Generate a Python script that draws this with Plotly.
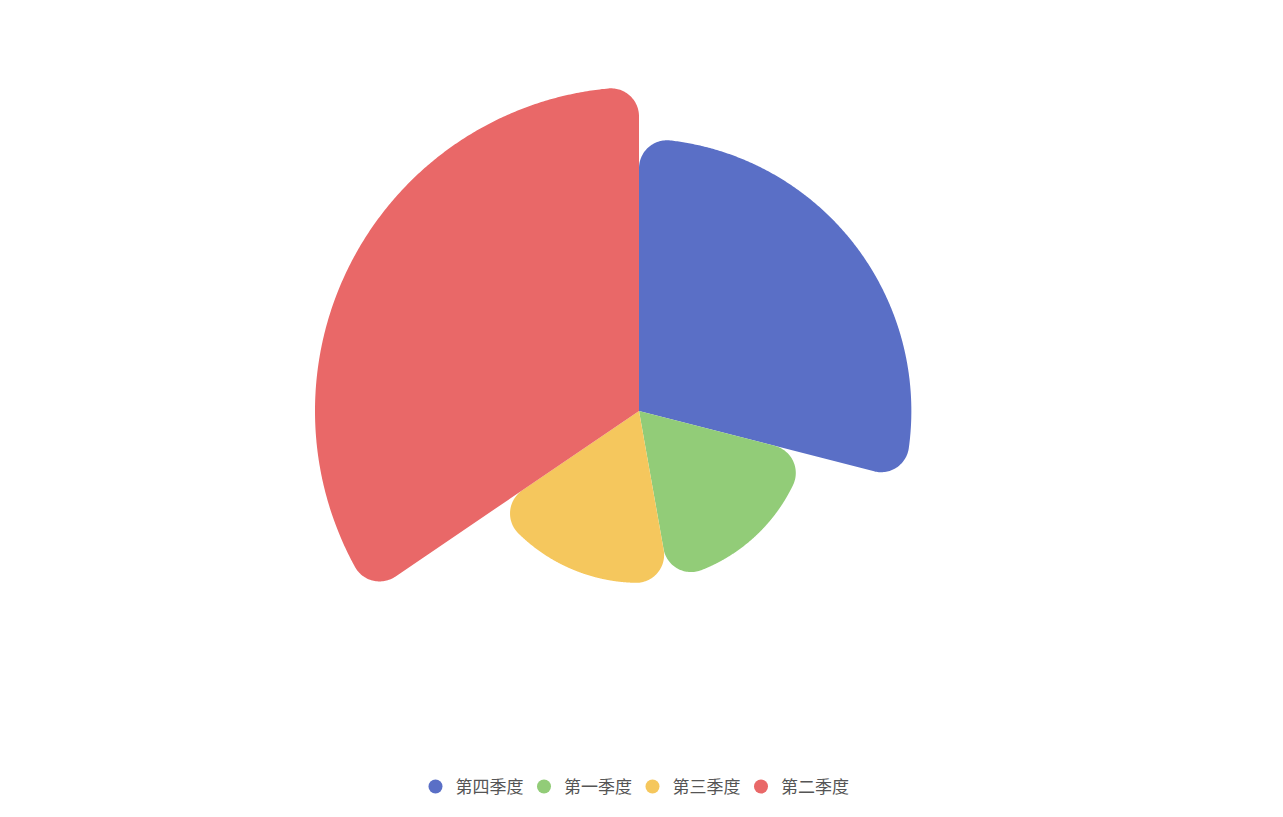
import numpy as np
import plotly.graph_objects as go

# Data
categories = ["第四季度", "第一季度", "第三季度", "第二季度"]
values = [290, 182, 183, 345]
colors = ["#5a6fc6", "#92cc78", "#f5c75d", "#e96868"]

W, H = 1283, 817
CX, CY = 639, 411          # pie centre in pixels
MAX_R = 324                # radius of the largest slice, pixels
CORNER = 28                # rounded-corner radius, pixels


def pol(r, a_deg):
    """a_deg: clockwise degrees from 12 o'clock"""
    t = np.radians(90 - a_deg)
    return np.array([r * np.cos(t), r * np.sin(t)])


def arc(center, p_from, p_to, n=40):
    v1 = p_from - center
    v2 = p_to - center
    t1 = np.arctan2(v1[1], v1[0])
    t2 = np.arctan2(v2[1], v2[0])
    d = (t2 - t1 + np.pi) % (2 * np.pi) - np.pi
    rr = np.hypot(*v1)
    ts = t1 + d * np.linspace(0, 1, n)
    return np.stack([center[0] + rr * np.cos(ts), center[1] + rr * np.sin(ts)], axis=1)


def sector(a1, a2, R, c):
    delta = np.degrees(np.arcsin(c / (R - c)))
    d = (R - c) * np.cos(np.radians(delta))
    pts = [np.array([0.0, 0.0])]
    C1 = pol(R - c, a1 + delta)
    T1 = pol(d, a1)
    A1 = pol(R, a1 + delta)
    pts.extend(arc(C1, T1, A1))
    angs = np.linspace(a1 + delta, a2 - delta, 300)
    pts.extend([pol(R, a) for a in angs])
    C2 = pol(R - c, a2 - delta)
    A2 = pol(R, a2 - delta)
    T2 = pol(d, a2)
    pts.extend(arc(C2, A2, T2))
    pts.append(np.array([0.0, 0.0]))
    pts = np.array(pts)
    return pts[:, 0], pts[:, 1]


fig = go.Figure()
total = sum(values)
vmax = max(values)
start = 0.0
for name, v, col in zip(categories, values, colors):
    span = v / total * 360.0
    R = v / vmax * MAX_R
    x, y = sector(start, start + span, R, CORNER)
    fig.add_trace(go.Scatter(x=x, y=y, fill="toself", mode="lines",
                             line=dict(width=0, color=col, simplify=False),
                             fillcolor=col, showlegend=False, hoverinfo="skip"))
    start += span

# legend entries (circle icons)
for name, col in zip(categories, colors):
    fig.add_trace(go.Scatter(x=[None], y=[None], mode="markers", name=name,
                             marker=dict(symbol="circle", size=14, color=col)))

fig.update_layout(
    width=W, height=H, autosize=False,
    margin=dict(l=0, r=0, t=0, b=0),
    paper_bgcolor="white", plot_bgcolor="white",
    xaxis=dict(range=[-CX, W - CX], visible=False, fixedrange=True),
    yaxis=dict(range=[-(H - CY), CY], visible=False, fixedrange=True),
    showlegend=True,
    legend=dict(orientation="h", x=0.5 - 9 / W, xanchor="center",
                y=1 - 787 / H, yanchor="middle",
                font=dict(family="Noto Sans CJK SC", size=17, color="#555555"),
                entrywidth=63.5, itemclick=False, itemdoubleclick=False),
)

fig.write_html("out.html")
